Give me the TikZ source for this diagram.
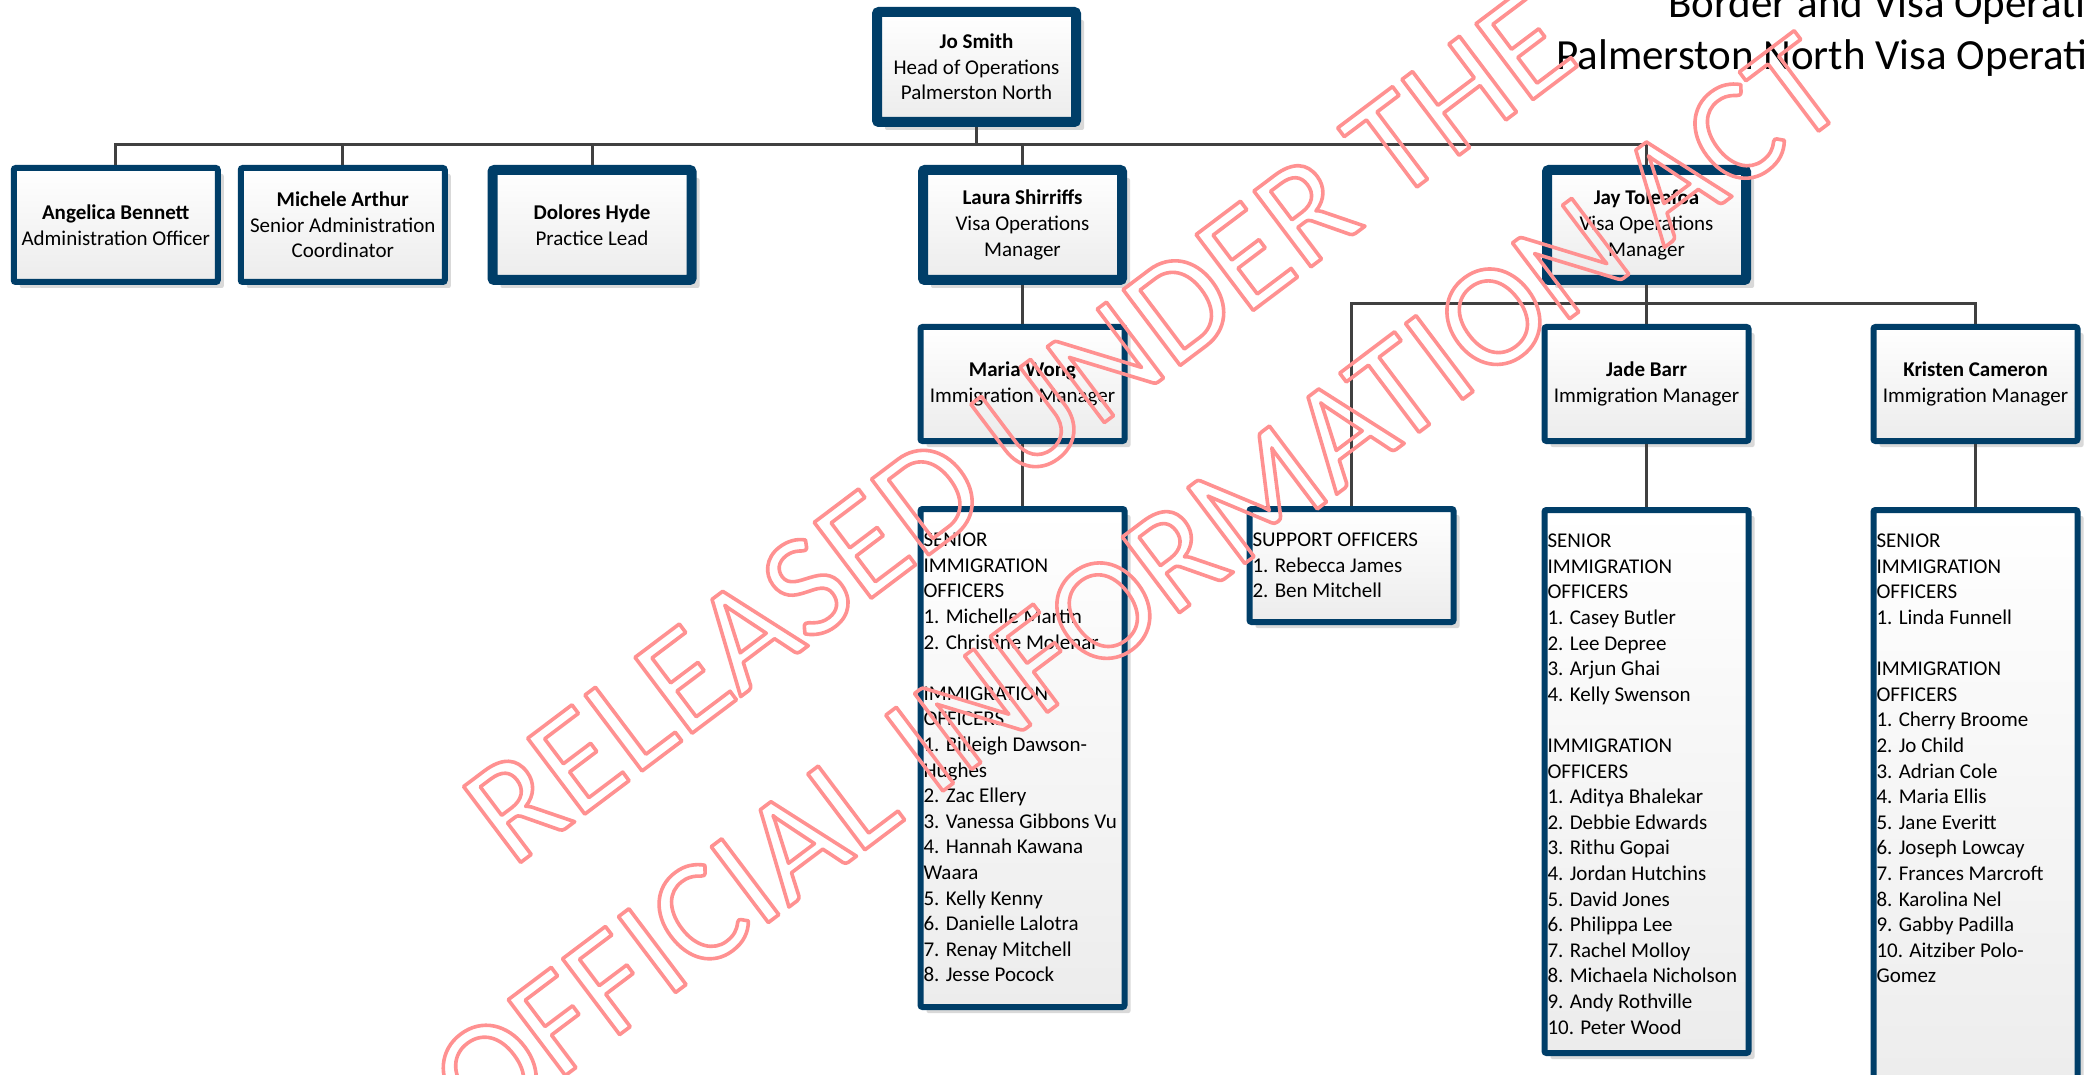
\documentclass[tikz,border=0pt]{standalone}
\usepackage{fontspec}
\setmainfont{Carlito}
\usetikzlibrary{shadows}

\definecolor{boxnavy}{RGB}{0,62,104}
\definecolor{boxgray}{RGB}{236,236,236}
\definecolor{linegray}{RGB}{64,64,64}
\definecolor{stampred}{RGB}{255,145,145}

\newcommand{\hollow}[1]{\special{pdf:code 1 Tr 1.8 w 1 j}#1\special{pdf:code 0 Tr}}
\newcommand{\stafflist}[2]{\parbox[c][#1][t]{99pt}{\vspace*{12pt}\raggedright #2}}

\begin{document}
\begin{tikzpicture}[x=0.5pt, y=-0.5pt,
	every node/.style={font=\fontsize{10.5pt}{12.8pt}\selectfont},
	orgbox/.style={draw=boxnavy, rounded corners=1pt, top color=white, bottom color=boxgray, inner sep=0pt},
	thickhead/.style={orgbox, line width=5pt, minimum width=99.5pt, minimum height=55pt, align=center,
		drop shadow={shadow xshift=4pt, shadow yshift=-4pt, fill=black!15, opacity=1}},
	thinhead/.style={orgbox, line width=3pt, minimum width=102pt, minimum height=57pt, align=center,
		drop shadow={shadow xshift=3pt, shadow yshift=-3pt, fill=black!15, opacity=1}},
	listbox/.style={orgbox, line width=3pt, inner xsep=1.5pt, inner ysep=0pt,
		drop shadow={shadow xshift=3pt, shadow yshift=-3pt, fill=black!15, opacity=1}},
	conn/.style={draw=linegray, line width=1.5pt},
	title/.style={anchor=base west, inner sep=0pt, font=\fontsize{21.5pt}{25pt}\selectfont},
	stamp/.style={rotate=37, anchor=base, inner sep=0pt, text=stampred, font=\fontsize{74pt}{80pt}\selectfont}]
	\useasboundingbox (0,0) rectangle (2084,1075);
	\clip (0,0) rectangle (2084,1075);
	\fill[white] (0,0) rectangle (2084,1075);

	\node[title] (title1) at (1668,18) {Border and Visa Operati};
	\node[title] (title2) at (1556,70) {Palmerston North Visa Operati};

	\node[thickhead] (jo) at (976.5,67) {\textbf{Jo Smith}\\Head of Operations\\Palmerston North};
	\node[thinhead] (angelica) at (115.75,225) {\textbf{Angelica Bennett}\\Administration Officer};
	\node[thinhead] (michele) at (342.75,225) {\textbf{Michele Arthur}\\Senior Administration\\Coordinator};
	\node[thickhead] (dolores) at (592,225) {\textbf{Dolores Hyde}\\Practice Lead};
	\node[thickhead] (laura) at (1022.5,225) {\textbf{Laura Shirriffs}\\Visa Operations\\Manager};
	\node[thickhead] (jay) at (1646.5,225) {\textbf{Jay Toleafoa}\\Visa Operations\\Manager};

	\node[thinhead] (maria) at (1022.5,384) {\textbf{Maria Wong}\\Immigration Manager};
	\node[thinhead] (jade) at (1646.5,384) {\textbf{Jade Barr}\\Immigration Manager};
	\node[thinhead] (kristen) at (1975.5,384) {\textbf{Kristen Cameron}\\Immigration Manager};

	\node[listbox] (marialist) at (1022.5,758) {\stafflist{249pt}{SENIOR\\IMMIGRATION\\OFFICERS\\1. Michelle Martin\\2. Christine Molenar\\[\baselineskip]IMMIGRATION\\OFFICERS\\1. Billeigh Dawson-\\Hughes\\2. Zac Ellery\\3. Vanessa Gibbons Vu\\4. Hannah Kawana\\Waara\\5. Kelly Kenny\\6. Danielle Lalotra\\7. Renay Mitchell\\8. Jesse Pocock}};
	\node[listbox] (support) at (1351.5,565.5) {\stafflist{56.5pt}{SUPPORT OFFICERS\\1. Rebecca James\\2. Ben Mitchell}};
	\node[listbox] (jadelist) at (1646.5,781.5) {\stafflist{271.5pt}{SENIOR\\IMMIGRATION\\OFFICERS\\1. Casey Butler\\2. Lee Depree\\3. Arjun Ghai\\4. Kelly Swenson\\[\baselineskip]IMMIGRATION\\OFFICERS\\1. Aditya Bhalekar\\2. Debbie Edwards\\3. Rithu Gopai\\4. Jordan Hutchins\\5. David Jones\\6. Philippa Lee\\7. Rachel Molloy\\8. Michaela Nicholson\\9. Andy Rothville\\10. Peter Wood}};
	\node[listbox] (kristenlist) at (1975.5,807) {\stafflist{297pt}{SENIOR\\IMMIGRATION\\OFFICERS\\1. Linda Funnell\\[\baselineskip]IMMIGRATION\\OFFICERS\\1. Cherry Broome\\2. Jo Child\\3. Adrian Cole\\4. Maria Ellis\\5. Jane Everitt\\6. Joseph Lowcay\\7. Frances Marcroft\\8. Karolina Nel\\9. Gabby Padilla\\10. Aitziber Polo-\\Gomez}};

	\coordinate (bus1) at (1646.5,145);
	\coordinate (bus2) at (1975.5,304);
	\draw[conn] (angelica.north) |- (bus1) -- (jay.north);
	\draw[conn] (jo.south) -- (jo.south |- bus1);
	\draw[conn] (michele.north) -- (michele.north |- bus1);
	\draw[conn] (dolores.north) -- (dolores.north |- bus1);
	\draw[conn] (laura.north) -- (laura.north |- bus1);
	\draw[conn] (laura.south) -- (maria.north);
	\draw[conn] (maria.south) -- (marialist.north);
	\draw[conn] (support.north) |- (bus2) -- (kristen.north);
	\draw[conn] (jay.south) -- (jade.north);
	\draw[conn] (jade.south) -- (jadelist.north);
	\draw[conn] (kristen.south) -- (kristenlist.north);

	\node[stamp] (stamp1) at (1047.4,465.5) {\hollow{RELEASED UNDER THE}};
	\node[stamp] (stamp2) at (1166,622.9) {\hollow{OFFICIAL INFORMATION ACT}};
\end{tikzpicture}
\end{document}
